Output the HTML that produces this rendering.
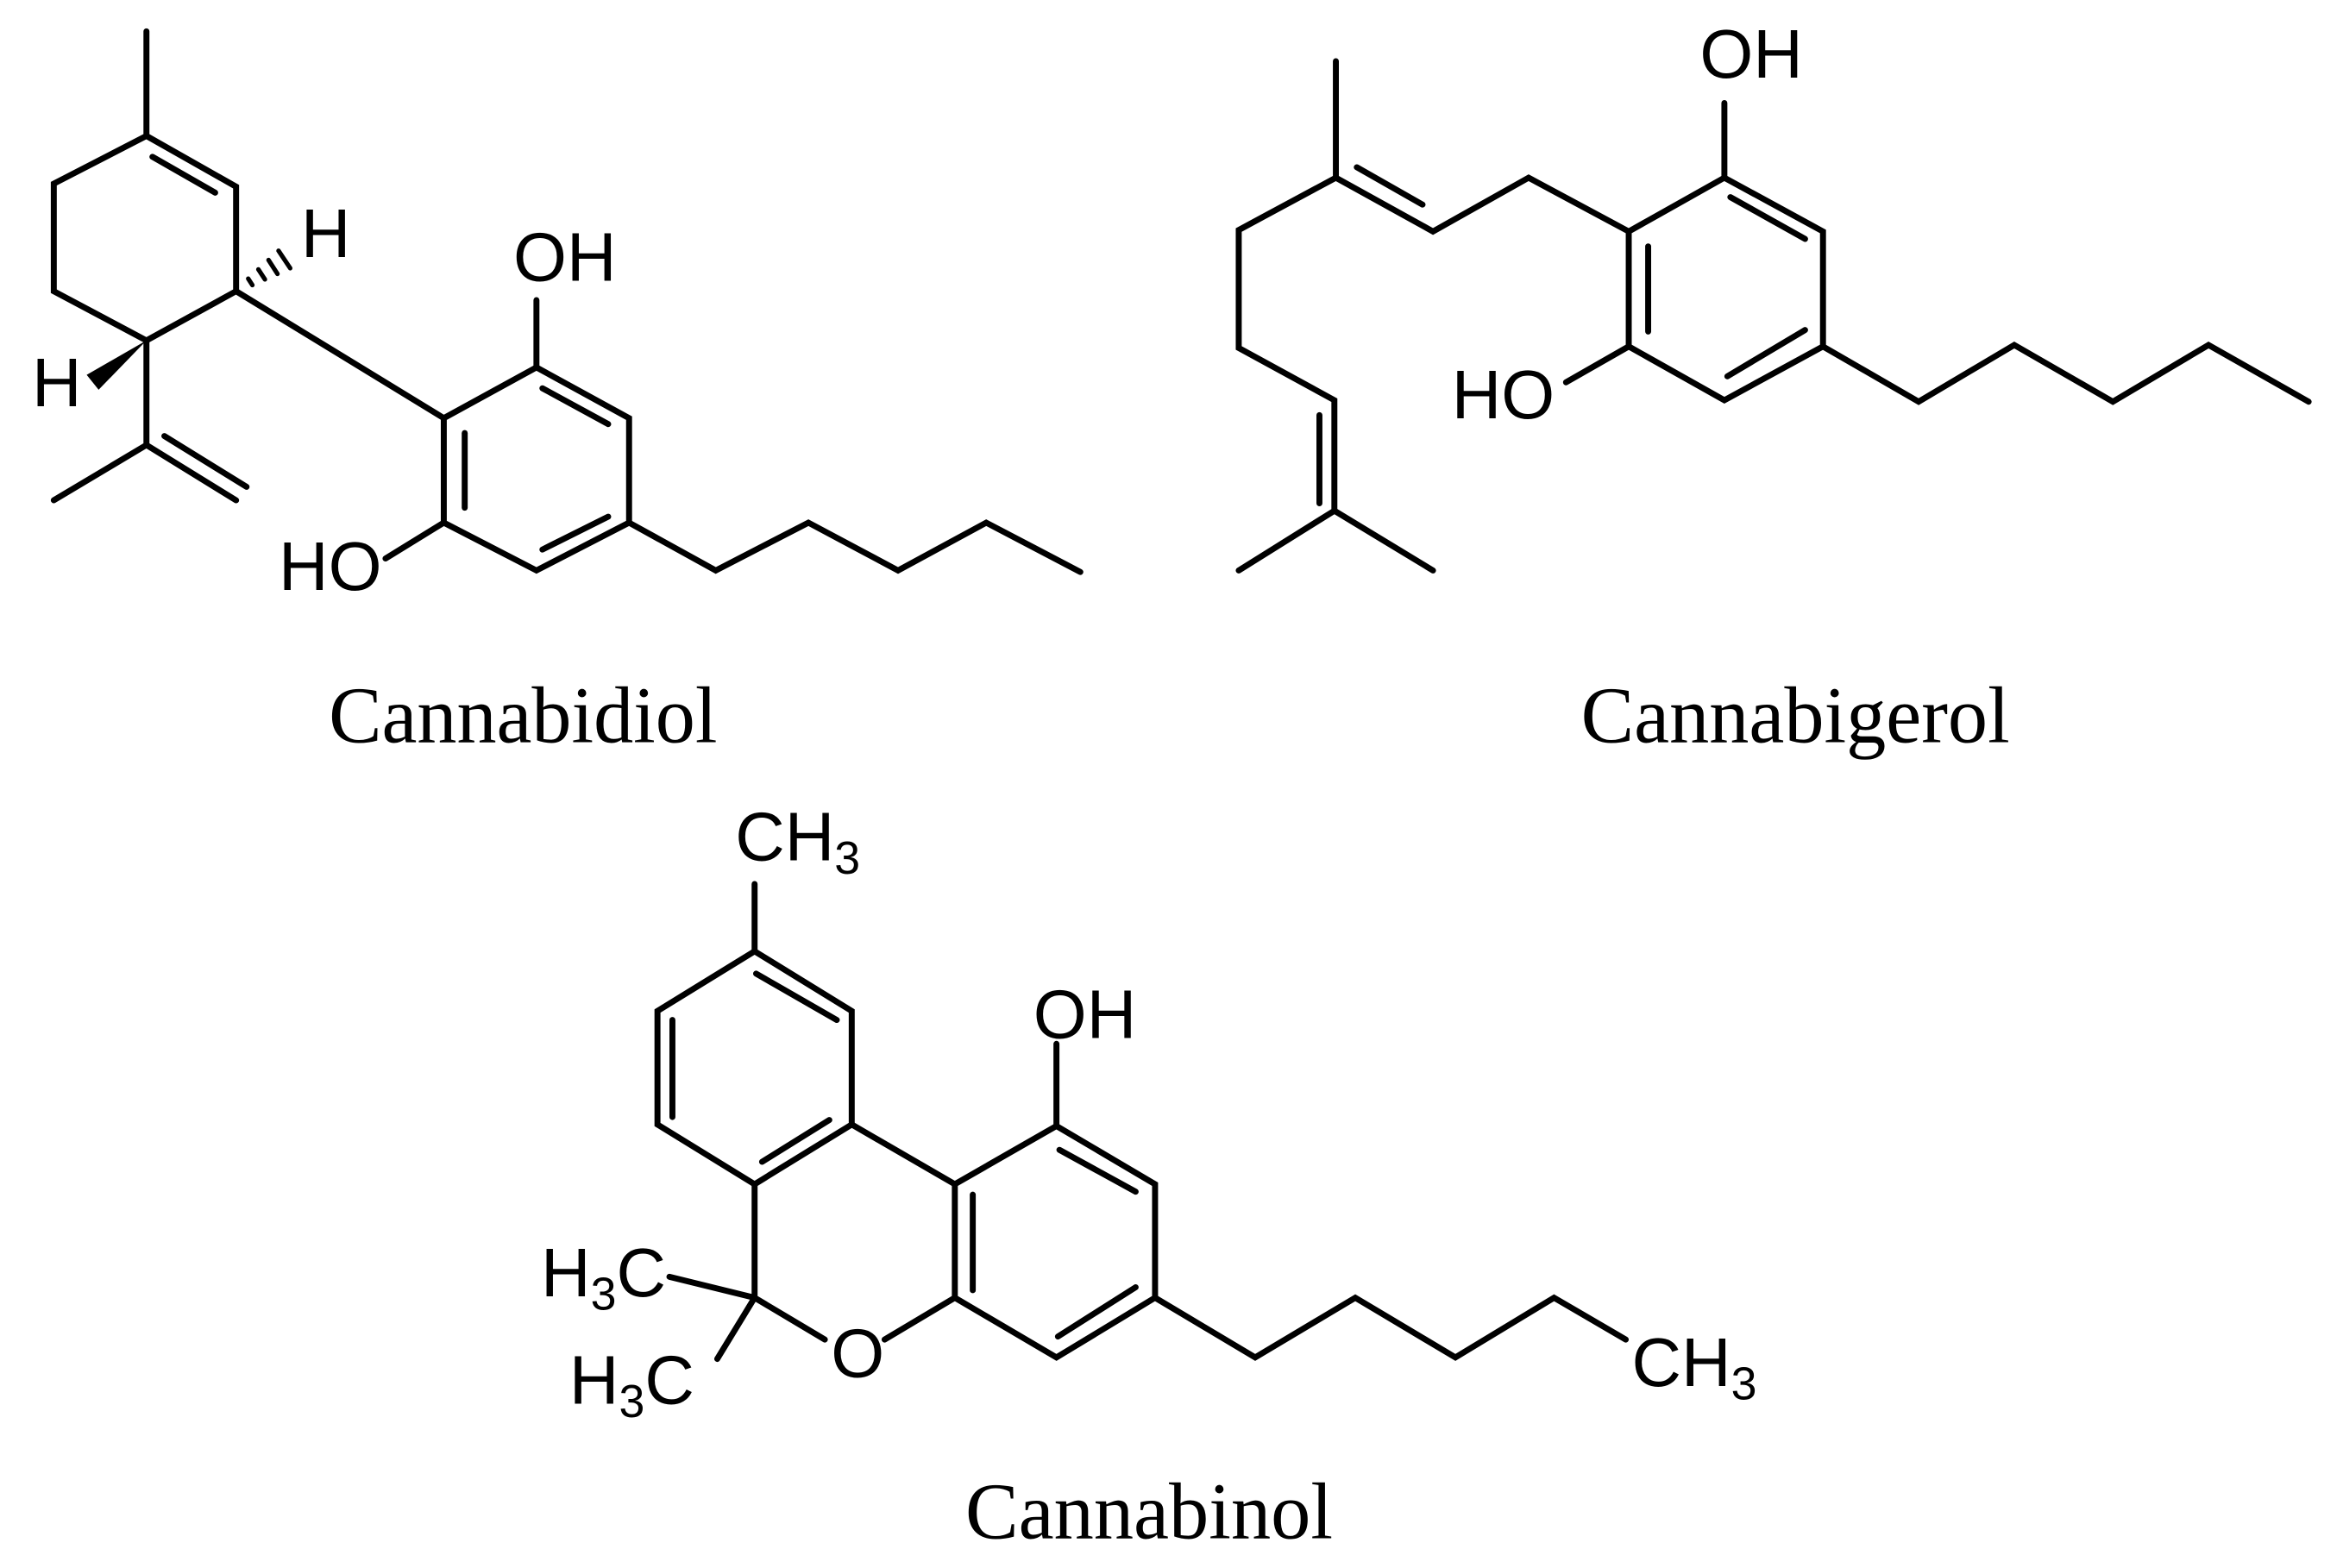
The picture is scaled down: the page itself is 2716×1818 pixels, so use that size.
<!DOCTYPE html>
<html><head><meta charset="utf-8"><style>
html,body{margin:0;padding:0;background:#fff;}
svg{display:block;}
.s{font-family:"Liberation Sans",sans-serif;font-size:46px;fill:#000;}
.sub{font-size:31px;}
.n{font-family:"Liberation Serif",serif;font-size:54px;fill:#000;}
</style></head><body>
<svg width="2716" height="1818" viewBox="0 0 1568 1050" preserveAspectRatio="none" xmlns="http://www.w3.org/2000/svg">
<rect width="1568" height="1050" fill="#fff"/>
<g stroke="#000" stroke-width="4" fill="none" stroke-linecap="round" stroke-linejoin="miter">
<!-- Cannabidiol -->
<polyline points="98,21 98,91 158,125 158,195 98,228 36,195 36,123 98,91"/>
<line x1="102" y1="105" x2="144" y2="129"/>
<polyline points="98,228 98,298 36,335"/>
<line x1="98" y1="298" x2="158" y2="335"/>
<line x1="110" y1="292" x2="165" y2="326"/>
<line x1="158" y1="195" x2="297" y2="280"/>
<polygon points="297,280 359,246 421,280 421,350 359,382 297,350"/>
<line x1="311" y1="290" x2="311" y2="340"/>
<line x1="363" y1="260" x2="407" y2="284"/>
<line x1="363" y1="368" x2="407" y2="346"/>
<line x1="359" y1="246" x2="359" y2="201"/>
<line x1="297" y1="350" x2="258" y2="374"/>
<polyline points="421,350 479,382 541,350 601,382 660,350 723,383"/>
<g stroke-width="3">
<line x1="166.1" y1="186.6" x2="168.9" y2="190.9"/>
<line x1="172.9" y1="180.4" x2="177.3" y2="187.1"/>
<line x1="179.7" y1="174.1" x2="185.7" y2="183.4"/>
<line x1="186.4" y1="167.9" x2="194.2" y2="179.6"/>
</g>
<!-- Cannabigerol -->
<polyline points="894,41 894,119 959,155 1023,119 1090,155"/>
<line x1="908" y1="112" x2="952" y2="137"/>
<polyline points="894,119 829,154 829,233 893,268 893,342 829,382"/>
<line x1="893" y1="342" x2="959" y2="382"/>
<line x1="883" y1="278" x2="883" y2="337"/>
<polygon points="1090,155 1154,119 1220,155 1220,232 1154,268 1090,232"/>
<line x1="1103" y1="165" x2="1103" y2="222"/>
<line x1="1158" y1="132" x2="1208" y2="160"/>
<line x1="1208" y1="221" x2="1156" y2="252"/>
<line x1="1154" y1="119" x2="1154" y2="69"/>
<line x1="1090" y1="232" x2="1048" y2="256"/>
<polyline points="1220,232 1284,269 1348,231 1414,269 1478,231 1545,269"/>
<!-- Cannabinol -->
<line x1="505" y1="592" x2="505" y2="637"/>
<polygon points="505,637 570,677 570,753 505,793 440,753 440,677"/>
<line x1="506" y1="652" x2="560" y2="683"/>
<line x1="450" y1="683" x2="450" y2="748"/>
<line x1="555" y1="750" x2="510" y2="778"/>
<line x1="570" y1="753" x2="639" y2="793"/>
<polygon points="639,793 707,754 773,793 773,869 707,909 639,869"/>
<line x1="651" y1="800" x2="651" y2="864"/>
<line x1="709" y1="770" x2="760" y2="798"/>
<line x1="760" y1="862" x2="708" y2="895"/>
<line x1="707" y1="754" x2="707" y2="699"/>
<polyline points="505,793 505,869 552,897"/>
<line x1="639" y1="869" x2="592" y2="897"/>
<line x1="505" y1="869" x2="448" y2="855"/>
<line x1="505" y1="869" x2="480" y2="910"/>
<polyline points="773,869 840,909 907,869 974,909 1040,869 1088,897"/>
</g>
<polygon points="98,228 66,261 58,251" fill="#000"/>
<!-- atom labels -->
<text class="s" x="378" y="188" text-anchor="middle">OH</text>
<text class="s" x="221" y="395" text-anchor="middle">HO</text>
<text class="s" x="218" y="172" text-anchor="middle">H</text>
<text class="s" x="38" y="272" text-anchor="middle">H</text>
<text class="s" x="1172" y="52" text-anchor="middle">OH</text>
<text class="s" x="1006" y="280" text-anchor="middle">HO</text>
<text class="s" x="492" y="576">CH<tspan class="sub" dy="9">3</tspan></text>
<text class="s" x="726" y="695" text-anchor="middle">OH</text>
<text class="s" x="362" y="868">H<tspan class="sub" dy="9">3</tspan><tspan dy="-9">C</tspan></text>
<text class="s" x="381" y="940">H<tspan class="sub" dy="9">3</tspan><tspan dy="-9">C</tspan></text>
<text class="s" x="574" y="922" text-anchor="middle">O</text>
<text class="s" x="1092" y="928">CH<tspan class="sub" dy="9">3</tspan></text>
<!-- names -->
<text class="n" x="220" y="497" textLength="260" lengthAdjust="spacingAndGlyphs">Cannabidiol</text>
<text class="n" x="1058" y="497" textLength="287" lengthAdjust="spacingAndGlyphs">Cannabigerol</text>
<text class="n" x="646" y="1030" textLength="246" lengthAdjust="spacingAndGlyphs">Cannabinol</text>
</svg>
</body></html>
